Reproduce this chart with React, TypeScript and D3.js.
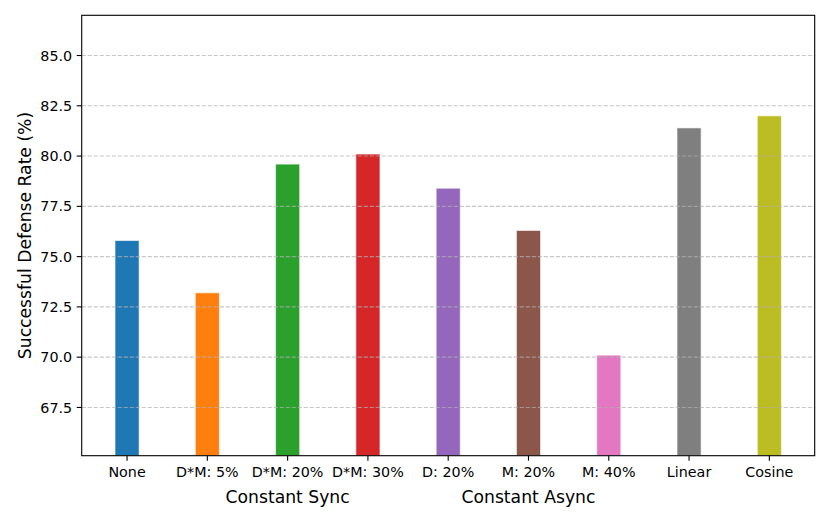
import React from "react";
import * as d3 from "d3";

const categories = ["None", "D*M: 5%", "D*M: 20%", "D*M: 30%", "D: 20%", "M: 20%", "M: 40%", "Linear", "Cosine"];
const values = [75.8, 73.2, 79.6, 80.1, 78.4, 76.3, 70.1, 81.4, 82.0];
const colors = ["#1f77b4", "#ff7f0e", "#2ca02c", "#d62728", "#9467bd", "#8c564b", "#e377c2", "#7f7f7f", "#bcbd22"];
const yTicks = [67.5, 70.0, 72.5, 75.0, 77.5, 80.0, 82.5, 85.0];
const groupLabels = [
  { label: "Constant Sync", center: 2 },
  { label: "Constant Async", center: 5 },
];
const yLabel = "Successful Defense Rate (%)";

const W = 830;
const H = 519;
const left = 81.7;
const right = 814.7;
const top = 15.3;
const bottom = 455.7;
const barW = 0.3;

export default function App() {
  const yMin = d3.min(values)! - 5;
  const yMax = d3.max(values)! + 5;
  const x = d3.scaleLinear().domain([-0.15 - 0.415, 8.15 + 0.415]).range([left, right]);
  const y = d3.scaleLinear().domain([yMin, yMax]).range([bottom, top]);
  const font = "'DejaVu Sans', sans-serif";
  return (
    <svg width={W} height={H} style={{ position: "absolute", left: 0, top: 0, background: "#fff" }} fontFamily={font}>
      <rect x={0} y={0} width={W} height={H} fill="#fff" />
      {values.map((v, i) => (
        <rect
          key={i}
          x={x(i - barW / 2)}
          y={y(v)}
          width={x(barW) - x(0)}
          height={bottom - y(v)}
          fill={colors[i]}
          stroke="#fff"
          strokeOpacity={0.6}
          strokeWidth={1}
        />
      ))}
      {yTicks.map((t) => (
        <line
          key={t}
          x1={left}
          x2={right}
          y1={y(t)}
          y2={y(t)}
          stroke="#b0b0b0"
          strokeOpacity={0.7}
          strokeWidth={1.1}
          strokeDasharray="4.2,1.8"
        />
      ))}
      <rect x={left} y={top} width={right - left} height={bottom - top} fill="none" stroke="#000" strokeWidth={1.1} />
      {yTicks.map((t) => (
        <g key={t}>
          <line x1={left - 5} x2={left} y1={y(t)} y2={y(t)} stroke="#000" strokeWidth={1.1} />
          <text x={left - 9.5} y={y(t)} dy="0.36em" textAnchor="end" fontSize={14.3} fill="#000">
            {t.toFixed(1)}
          </text>
        </g>
      ))}
      {categories.map((c, i) => (
        <g key={c}>
          <line x1={x(i)} x2={x(i)} y1={bottom} y2={bottom + 5} stroke="#000" strokeWidth={1.1} />
          <text x={x(i)} y={477.3} textAnchor="middle" fontSize={14.3} fill="#000">
            {c}
          </text>
        </g>
      ))}
      {groupLabels.map((g) => (
        <text key={g.label} x={x(g.center)} y={503.3} textAnchor="middle" fontSize={17.2} fill="#000">
          {g.label}
        </text>
      ))}
      <text
        transform={`translate(30.5,${(top + bottom) / 2}) rotate(-90)`}
        textAnchor="middle"
        fontSize={17.2}
        fill="#000"
      >
        {yLabel}
      </text>
    </svg>
  );
}
